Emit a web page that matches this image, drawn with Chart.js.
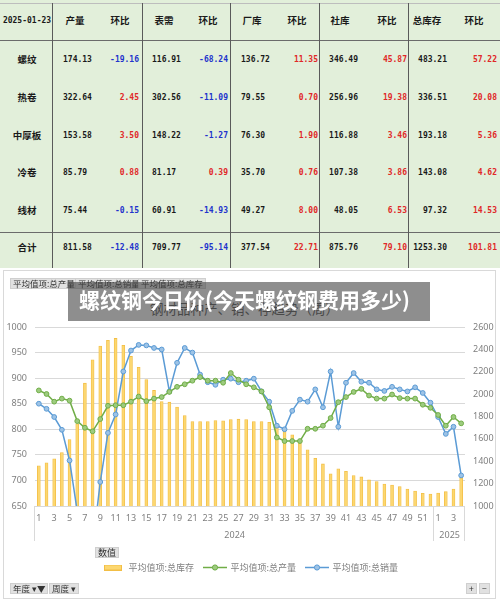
<!DOCTYPE html>
<html><head><meta charset="utf-8">
<script src="https://cdn.jsdelivr.net/npm/chart.js@4.4.1/dist/chart.umd.min.js"></script>
<style>
body{margin:0;width:500px;height:603px;position:relative;background:#fff;overflow:hidden;font-family:"Noto Sans CJK SC","Noto Sans",sans-serif;}
#tbl{position:absolute;left:0;top:0;width:500px;height:268px;background:#E2EFDA;}
.t{position:absolute;white-space:nowrap;line-height:1;color:#1a1a1a;}
.cn{font-family:"Noto Sans CJK SC",sans-serif;font-weight:bold;font-size:9.5px;}
.num{font-family:"DejaVu Sans Mono","Liberation Mono",monospace;font-weight:bold;font-size:8px;}
.hl{position:absolute;height:1px;left:0;width:500px;background:#6b6b6b;}
.vl{position:absolute;width:1px;top:3px;height:265px;background:#5a5a5a;}
#box{position:absolute;left:3px;top:270px;width:493px;height:329px;border:1px solid #d9d9d9;box-sizing:border-box;}
#cv{position:absolute;left:0;top:270px;width:500px;height:330px;}
.btn{position:absolute;background:#e1e1e1;border:1px solid #cfcfcf;color:#333;font-size:8.5px;line-height:9px;height:9px;padding:0 2px;white-space:nowrap;font-family:"Noto Sans CJK SC",sans-serif;}
#ctitle{position:absolute;left:150px;top:298px;font-size:13.5px;color:#595959;white-space:nowrap;}
#overlay{position:absolute;left:68px;top:282px;width:362px;height:39px;background:rgba(60,60,60,0.58);}
#otext{position:absolute;left:79px;top:287px;font-size:21px;font-weight:bold;color:#fff;white-space:nowrap;line-height:25px;}
</style></head>
<body>
<div id="tbl"></div>
<div id="box"></div>
<div id="ctitle">钢材品种产、销、存趋势（周）</div>
<canvas id="cv" width="500" height="330"></canvas>
<div class="btn" style="left:10px;top:278px;">平均值项:总产量</div>
<div class="btn" style="left:75px;top:278px;">平均值项:总销量</div>
<div class="btn" style="left:138px;top:278px;">平均值项:总库存</div>
<div id="overlay"></div>
<div id="otext">螺纹钢今日价(今天螺纹钢费用多少)</div>
<div class="btn" style="left:95px;top:547px;font-size:9px;">数值</div>
<div class="btn" style="left:10px;top:583px;">年度 ▾▼</div>
<div class="btn" style="left:49px;top:583px;">周度 ▾</div>
<div class="btn" style="left:466px;top:583px;">+</div>
<div class="btn" style="left:479px;top:583px;">−</div>
<script>
// ---------- table data ----------
const tableDate = '2025-01-23';
const tableHeaders = ['产量','环比','表需','环比','厂库','环比','社库','环比','总库存','环比'];
const products = ['螺纹','热卷','中厚板','冷卷','线材','合计'];
const outputVals = [174.13,322.64,153.58,85.79,75.44,811.58];
const outputChg  = [-19.16,2.45,3.50,0.88,-0.15,-12.48];
const demandVals = [116.91,302.56,148.22,81.17,60.91,709.77];
const demandChg  = [-68.24,-11.09,-1.27,0.39,-14.93,-95.14];
const millStock  = [136.72,79.55,76.30,35.70,49.27,377.54];
const millChg    = [11.35,0.70,1.90,0.76,8.00,22.71];
const socStock   = [346.49,256.96,116.88,107.38,48.05,875.76];
const socChg     = [45.87,19.38,3.46,3.86,6.53,79.10];
const totStock   = [483.21,336.51,193.18,143.08,97.32,1253.30];
const totChg     = [57.22,20.08,5.36,4.62,14.53,101.81];

// ---------- chart data ----------
const weekLabels = ['1','2','3','4','5','6','7','8','9','10','11','12','13','14','15','16','17','18','19','20','21','22','23','24','25','26','27','28','29','30','31','32','33','34','35','36','37','38','39','40','41','42','43','44','45','46','47','48','49','50','51','52','1','2','3','4'];
const yearGroups = ['2024','2025'];
const yearWeekCounts = [52,4];
const totalInventory = [1360,1386,1421,1478,1594,1734,2098,2307,2430,2481,2498,2436,2337,2239,2131,2033,1934,1928,1884,1809,1755,1755,1755,1764,1761,1773,1776,1773,1755,1755,1749,1710,1669,1636,1585,1503,1427,1376,1287,1333,1310,1272,1260,1233,1218,1197,1188,1173,1152,1134,1113,1107,1116,1128,1151.49,1253.30];
const totalOutput = [876,869,854,860,856,816,803,796,820,846,847,847,854,864,855,860,863,873,883,888,895,902,895,895,891,910,897,888,882,874,843,784,777,777,777,801,801,807,822,853,863,873,879,866,860,860,868,861,860,860,848,842,828,807,824.06,811.58];
const totalSales = [850,840,824,799,739,640,520,570,697,793,829,913,954,965,964,959,956,874,930,959,950,907,892,887,897,899,892,895,899,874,854,807,800,836,858,854,878,843,913,805,891,910,893,891,878,875,883,878,874,882,871,852,824,791,804.91,709.77];
const leftAxisTicks = [650,700,750,800,850,900,950,1000];
const rightAxisTicks = [1000,1200,1400,1600,1800,2000,2200,2400,2600];
const seriesNames = ['平均值项:总库存','平均值项:总产量','平均值项:总销量'];

// ---------- build table ----------
const tbl = document.getElementById('tbl');
function add(txt, cls, x, y, align, color){
  const s = document.createElement('span');
  s.className = 't ' + cls; s.textContent = txt;
  s.style.top = y + 'px';
  if(align === 'center'){ s.style.left = x + 'px'; s.style.transform = 'translate(-50%,-50%)'; }
  else if(align === 'left'){ s.style.left = x + 'px'; s.style.transform = 'translateY(-50%)'; }
  else { s.style.right = (500 - x) + 'px'; s.style.transform = 'translateY(-50%)'; }
  if(color) s.style.color = color;
  tbl.appendChild(s);
}
[[2.5,'#bdbdbd'],[40,null],[232,null]].forEach(([y,c])=>{const d=document.createElement('div');d.className='hl';d.style.top=y+'px';if(c)d.style.background=c;tbl.appendChild(d);});
[52,142,230,319,408].forEach(x=>{const d=document.createElement('div');d.className='vl';d.style.left=x+'px';tbl.appendChild(d);});
const headerX = [75,120,164,208,252,297,340,387,427,474];
const rowY = [60,98,136,173,211,248];
add(tableDate,'num',27,21,'center');
tableHeaders.forEach((h,i)=>add(h,'cn',headerX[i],21,'center'));
const groups = [
  {v:outputVals,c:outputChg,x:63,al:'left',cx:139},
  {v:demandVals,c:demandChg,x:152,al:'left',cx:228},
  {v:millStock,c:millChg,x:241,al:'left',cx:318},
  {v:socStock,c:socChg,x:358,al:'right',cx:407},
  {v:totStock,c:totChg,x:447,al:'right',cx:497}
];
products.forEach((p,r)=>{
  add(p,'cn',27,rowY[r],'center');
  groups.forEach(g=>{
    add(g.v[r].toFixed(2),'num',g.x,rowY[r],g.al);
    const cv = g.c[r];
    add(cv.toFixed(2),'num',g.cx,rowY[r],'right', cv < 0 ? '#2233cc' : '#e02828');
  });
});

// ---------- legend icons ----------
function barIcon(){const c=document.createElement('canvas');c.width=18;c.height=6;const x=c.getContext('2d');x.fillStyle='#FCD770';x.fillRect(0,0,18,6);x.strokeStyle='#F2BE45';x.lineWidth=1;x.strokeRect(0.5,0.5,17,5);return c;}
function lineIcon(line,fill){const c=document.createElement('canvas');c.width=24;c.height=7;const x=c.getContext('2d');x.strokeStyle=line;x.lineWidth=1.5;x.beginPath();x.moveTo(0,3.5);x.lineTo(24,3.5);x.stroke();x.beginPath();x.arc(12,3.5,2.6,0,Math.PI*2);x.fillStyle=fill;x.fill();x.lineWidth=1;x.stroke();return c;}
const icons = [barIcon(), lineIcon('#70AD47','#9DCB7F'), lineIcon('#5B9BD5','#9DC3E6')];

// ---------- year group plugin ----------
const yearPlugin = {
  id:'yearGroups',
  afterDraw(chart){
    const xs = chart.scales.x, a = chart.chartArea, ctx = chart.ctx;
    const half = (xs.getPixelForValue(1) - xs.getPixelForValue(0)) / 2;
    ctx.save();
    ctx.strokeStyle = '#d9d9d9'; ctx.lineWidth = 1;
    ctx.fillStyle = '#7f7f7f'; ctx.font = '9px "Noto Sans", sans-serif';
    ctx.textAlign = 'center'; ctx.textBaseline = 'middle';
    let start = 0; const bounds = [];
    yearGroups.forEach((yr,i)=>{
      const end = start + yearWeekCounts[i] - 1;
      const x0 = xs.getPixelForValue(start) - half, x1 = xs.getPixelForValue(end) + half;
      ctx.fillText(yr, (x0 + x1) / 2, a.bottom + 29);
      if(!bounds.includes(Math.round(x0))) bounds.push(Math.round(x0));
      bounds.push(Math.round(x1));
      start = end + 1;
    });
    bounds.forEach(b=>{ctx.beginPath();ctx.moveTo(b-0.5,a.bottom);ctx.lineTo(b-0.5,a.bottom+35);ctx.stroke();});
    ctx.restore();
  }
};

Chart.defaults.font.family = '"Noto Sans","Noto Sans CJK SC",sans-serif';
new Chart(document.getElementById('cv'), {
  type:'bar',
  data:{
    labels: weekLabels,
    datasets:[
      {type:'line',label:seriesNames[1],data:totalOutput,yAxisID:'y',order:1,borderColor:'#70AD47',borderWidth:1.5,pointRadius:2.4,pointBackgroundColor:'#9DCB7F',pointBorderColor:'#70AD47',pointBorderWidth:1,tension:0,clip:{left:5,right:5,top:5,bottom:0}},
      {type:'line',label:seriesNames[2],data:totalSales,yAxisID:'y',order:1,borderColor:'#5B9BD5',borderWidth:1.5,pointRadius:2.4,pointBackgroundColor:'#9DC3E6',pointBorderColor:'#5B9BD5',pointBorderWidth:1,tension:0,clip:{left:5,right:5,top:5,bottom:0}},
      {type:'bar',label:seriesNames[0],data:totalInventory,yAxisID:'y1',order:2,backgroundColor:'#FCD770',borderColor:'#F2BE45',borderWidth:0.8,barThickness:3}
    ]
  },
  options:{
    responsive:false, animation:false,
    layout:{padding:{top:57,left:0,right:0,bottom:18}},
    plugins:{
      tooltip:{enabled:false},
      legend:{
        position:'bottom',
        labels:{
          usePointStyle:true, pointStyleWidth:22, boxHeight:8, padding:10,
          color:'#7f7f7f', font:{size:9,family:'"Noto Sans CJK SC",sans-serif'},
          generateLabels(){
            return [0,1,2].map(i=>({text:seriesNames[i],pointStyle:icons[i],fillStyle:'transparent',strokeStyle:'transparent',lineWidth:0,hidden:false,datasetIndex:[2,0,1][i],fontColor:'#7f7f7f'}));
          }
        }
      }
    },
    scales:{
      x:{
        offset:true,
        grid:{display:false,drawTicks:false}, border:{display:false},
        ticks:{autoSkip:false,maxRotation:0,minRotation:0,padding:7,color:'#7f7f7f',font:{size:9},
          callback:(v,i)=> i % 2 === 0 ? weekLabels[i] : ''},
        afterFit:s=>{s.height=47;}
      },
      y:{
        position:'left', min:leftAxisTicks[0], max:leftAxisTicks[leftAxisTicks.length-1],
        afterBuildTicks:s=>{s.ticks=leftAxisTicks.map(v=>({value:v}));},
        grid:{color:'#d9d9d9',drawTicks:false}, border:{display:false},
        ticks:{padding:8,color:'#7f7f7f',font:{size:9},callback:v=>String(v)},
        afterFit:s=>{s.width=35;}
      },
      y1:{
        position:'right', min:rightAxisTicks[0], max:rightAxisTicks[rightAxisTicks.length-1],
        afterBuildTicks:s=>{s.ticks=rightAxisTicks.map(v=>({value:v}));},
        grid:{drawOnChartArea:false,drawTicks:false}, border:{display:false},
        ticks:{padding:8,color:'#7f7f7f',font:{size:9},callback:v=>String(v)},
        afterFit:s=>{s.width=35;}
      }
    }
  },
  plugins:[yearPlugin]
});
</script>
</body></html>
